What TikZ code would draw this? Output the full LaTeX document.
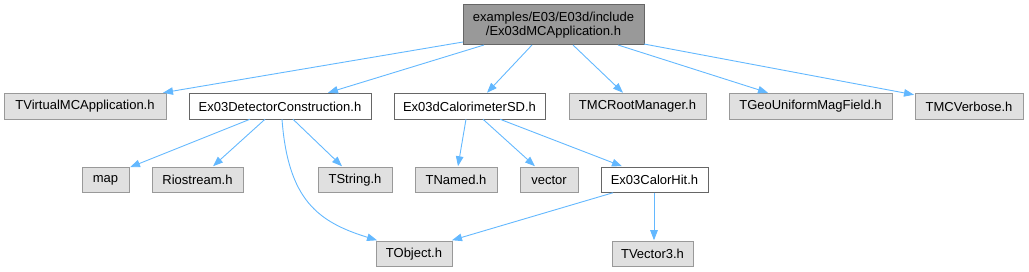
\documentclass[tikz,border=0pt]{standalone}
\usepackage{fontspec}
\setmainfont{Liberation Sans}
\usetikzlibrary{arrows.meta,calc}
\definecolor{edgeblue}{HTML}{63B8FF}
\definecolor{boxgray}{HTML}{E0E0E0}
\definecolor{boxline}{HTML}{999999}
\definecolor{darkline}{HTML}{666666}
\definecolor{rootfill}{HTML}{999999}
\begin{document}
\begin{tikzpicture}[x=1pt,y=-1pt,
  every node/.style={inner sep=0pt,outer sep=0pt,font=\fontsize{13}{14.5}\selectfont,text=black},
  sysbox/.style={draw=boxline,fill=boxgray,line width=1pt,minimum height=25.5pt},
  locbox/.style={draw=darkline,fill=white,line width=1pt,minimum height=25.5pt},
  rootbox/.style={draw=darkline,fill=rootfill,line width=1pt,minimum height=40pt,align=center},
  dep/.style={draw=edgeblue,line width=0.9pt,-{Triangle[length=10pt,width=7.5pt]}}]
\useasboundingbox (0,0) rectangle (1029,272);
% nodes
\node[rootbox,minimum width=181pt] (root) at (553.5,25) {examples/E03/E03d/include\\/Ex03dMCApplication.h};
\node[sysbox,minimum width=162pt] (tva) at (85,106.5) {TVirtualMCApplication.h};
\node[locbox,minimum width=182pt] (dc) at (280,106.5) {Ex03DetectorConstruction.h};
\node[locbox,minimum width=151pt] (sd) at (469.5,106.5) {Ex03dCalorimeterSD.h};
\node[sysbox,minimum width=137pt] (rm) at (637.5,106.5) {TMCRootManager.h};
\node[sysbox,minimum width=163pt] (geo) at (810.5,106.5) {TGeoUniformMagField.h};
\node[sysbox,minimum width=108pt] (tmv) at (969,106.5) {TMCVerbose.h};
\node[sysbox,minimum width=47pt] (map) at (105.5,180) {map};
\node[sysbox,minimum width=91pt] (rio) at (197.5,180) {Riostream.h};
\node[sysbox,minimum width=74pt] (tstr) at (355,180) {TString.h};
\node[sysbox,minimum width=82pt] (tnam) at (456,180) {TNamed.h};
\node[sysbox,minimum width=58pt] (vec) at (549,180) {vector};
\node[locbox,minimum width=107pt] (hit) at (654.5,180) {Ex03CalorHit.h};
\node[sysbox,minimum width=76pt] (tobj) at (414,254) {TObject.h};
\node[sysbox,minimum width=81pt] (tv3) at (652.5,254) {TVector3.h};
% edges from root
\draw[dep] ($(root.west)+(0,17)$) -- ($(tva.north east)+(-3,-1)$);
\draw[dep] ($(root.south west)+(21,0)$) -- ($(dc.north west)+(139,-1)$);
\draw[dep] ($(root.south west)+(69,0)$) -- ($(sd.north west)+(93,-1)$);
\draw[dep] ($(root.south west)+(110,0)$) -- ($(rm.north west)+(54,-1)$);
\draw[dep] ($(root.south west)+(155,0)$) -- ($(geo.north west)+(39,-1)$);
\draw[dep] ($(root.east)+(0,19)$) -- ($(tmv.north west)+(-1,1)$);
% edges from detector construction
\draw[dep] ($(dc.south west)+(61,0)$) -- ($(map.north east)+(1,0)$);
\draw[dep] ($(dc.south west)+(76,0)$) -- ($(rio.north west)+(61,-1)$);
\draw[dep] ($(dc.south west)+(104,0)$) -- ($(tstr.north west)+(24,-1)$);
\draw[dep] ($(dc.south west)+(93,0)$) .. controls (288,200) and (318,222) .. ($(tobj.north west)+(1,-1)$);
% edges from calorimeter SD
\draw[dep] ($(sd.south west)+(72,0)$) -- ($(tnam.north west)+(43,-1)$);
\draw[dep] ($(sd.south west)+(89,0)$) -- ($(vec.north west)+(15,-1)$);
\draw[dep] ($(sd.south west)+(106,0)$) -- ($(hit.north west)+(21,-1)$);
% edges from calor hit
\draw[dep] ($(hit.south west)+(12,0)$) -- ($(tobj.north east)+(0,-1)$);
\draw[dep] ($(hit.south west)+(53,0)$) -- ($(tv3.north west)+(42,-1)$);
\end{tikzpicture}
\end{document}
